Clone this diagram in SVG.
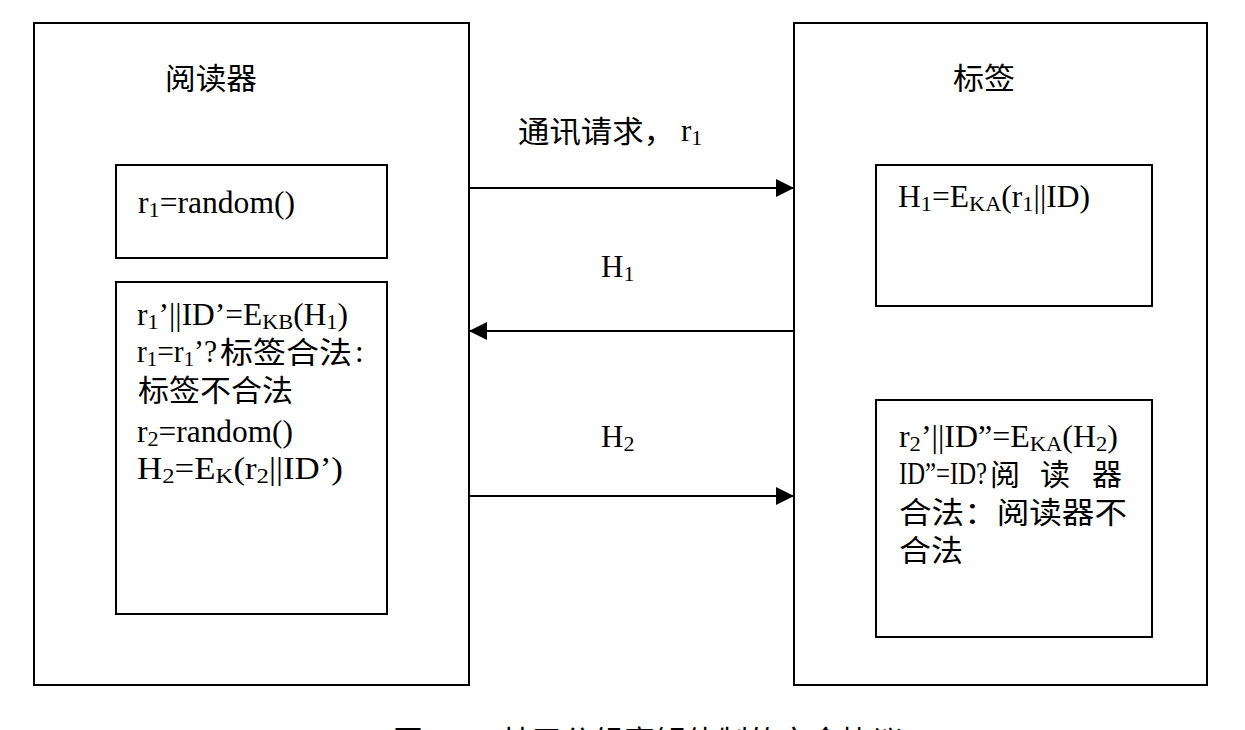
<svg xmlns="http://www.w3.org/2000/svg" width="1245" height="730" viewBox="0 0 1245 730">
<style>
  .box { fill: none; stroke: #000; stroke-width: 2; }
  .t { font-family: "Liberation Serif", "Noto Sans CJK SC", serif; font-size: 31px; fill: #000; }
  .cjk { font-family: "Noto Sans CJK SC", sans-serif; font-size: 30px; fill: #000; }
  .sub { font-size: 22px; }
  .conn { stroke: #000; stroke-width: 2; fill: none; }
</style>
<defs>
  <marker id="arr" markerUnits="userSpaceOnUse" markerWidth="18" markerHeight="18" refX="18" refY="9" orient="auto">
    <path d="M0,0 L18,9 L0,18 Z" fill="#000"/>
  </marker>
</defs>
<rect x="0" y="0" width="1245" height="730" fill="#fff"/>

<g id="reader">
  <rect class="box" x="34" y="23" width="435" height="662"/>
  <text class="cjk" x="165" y="89" textLength="92" lengthAdjust="spacingAndGlyphs">阅读器</text>
</g>
<g id="reader-step1">
  <rect class="box" x="116" y="165" width="271" height="93"/>
  <text class="t" x="138" y="213" textLength="157" lengthAdjust="spacingAndGlyphs">r<tspan class="sub" dy="4">1</tspan><tspan dy="-4">=random()</tspan></text>
</g>
<g id="reader-step2">
  <rect class="box" x="116" y="282" width="271" height="332"/>
  <text class="t" x="137" y="325" textLength="211" lengthAdjust="spacingAndGlyphs">r<tspan class="sub" dy="4">1</tspan><tspan dy="-4">’||ID’=E</tspan><tspan class="sub" dy="4">KB</tspan><tspan dy="-4">(H</tspan><tspan class="sub" dy="4">1</tspan><tspan dy="-4">)</tspan></text>
  <text class="t" x="137" y="362" textLength="80" lengthAdjust="spacingAndGlyphs">r<tspan class="sub" dy="4">1</tspan><tspan dy="-4">=r</tspan><tspan class="sub" dy="4">1</tspan><tspan dy="-4">’?</tspan></text>
  <text class="cjk" x="220" y="363" textLength="132" lengthAdjust="spacingAndGlyphs">标签合法</text>
  <text class="t" x="355" y="362">:</text>
  <text class="cjk" x="138" y="401" textLength="155" lengthAdjust="spacingAndGlyphs">标签不合法</text>
  <text class="t" x="137" y="442" textLength="156" lengthAdjust="spacingAndGlyphs">r<tspan class="sub" dy="4">2</tspan><tspan dy="-4">=random()</tspan></text>
  <text class="t" x="137" y="479" textLength="206" lengthAdjust="spacingAndGlyphs">H<tspan class="sub" dy="4">2</tspan><tspan dy="-4">=E</tspan><tspan class="sub" dy="4">K</tspan><tspan dy="-4">(r</tspan><tspan class="sub" dy="4">2</tspan><tspan dy="-4">||ID’)</tspan></text>
</g>

<g id="tag">
  <rect class="box" x="794" y="23" width="413" height="662"/>
  <text class="cjk" x="953" y="89" textLength="62" lengthAdjust="spacingAndGlyphs">标签</text>
</g>
<g id="tag-step1">
  <rect class="box" x="876" y="165" width="276" height="141"/>
  <text class="t" x="898" y="207" textLength="192" lengthAdjust="spacingAndGlyphs">H<tspan class="sub" dy="4">1</tspan><tspan dy="-4">=E</tspan><tspan class="sub" dy="4">KA</tspan><tspan dy="-4">(r</tspan><tspan class="sub" dy="4">1</tspan><tspan dy="-4">||ID)</tspan></text>
</g>
<g id="tag-step2">
  <rect class="box" x="876" y="400" width="276" height="237"/>
  <text class="t" x="899" y="447" textLength="219" lengthAdjust="spacingAndGlyphs">r<tspan class="sub" dy="4">2</tspan><tspan dy="-4">’||ID”=E</tspan><tspan class="sub" dy="4">KA</tspan><tspan dy="-4">(H</tspan><tspan class="sub" dy="4">2</tspan><tspan dy="-4">)</tspan></text>
  <text class="t" x="899" y="484" textLength="88" lengthAdjust="spacingAndGlyphs">ID”=ID?</text>
  <text class="cjk" x="990" y="485">阅</text>
  <text class="cjk" x="1040" y="485">读</text>
  <text class="cjk" x="1092" y="485">器</text>
  <text class="cjk" x="899" y="523" textLength="228" lengthAdjust="spacingAndGlyphs">合法：阅读器不</text>
  <text class="cjk" x="899" y="561" textLength="64" lengthAdjust="spacingAndGlyphs">合法</text>
</g>

<g id="connectors">
  <line class="conn" x1="469" y1="188" x2="794" y2="188" marker-end="url(#arr)"/>
  <line class="conn" x1="794" y1="331" x2="469" y2="331" marker-end="url(#arr)"/>
  <line class="conn" x1="469" y1="496" x2="794" y2="496" marker-end="url(#arr)"/>
  <text class="cjk" x="518" y="142" textLength="157" lengthAdjust="spacingAndGlyphs">通讯请求，</text>
  <text class="t" x="681" y="141">r<tspan class="sub" dy="4">1</tspan></text>
  <text class="t" x="601" y="277">H<tspan class="sub" dy="4">1</tspan></text>
  <text class="t" x="601" y="447">H<tspan class="sub" dy="4">2</tspan></text>
</g>

<text class="cjk" x="393" y="752" font-size="31">图 2.3</text>
<text class="cjk" x="500" y="752" font-size="31" textLength="403" lengthAdjust="spacingAndGlyphs">基于分组密钥体制的安全协议</text>
</svg>
